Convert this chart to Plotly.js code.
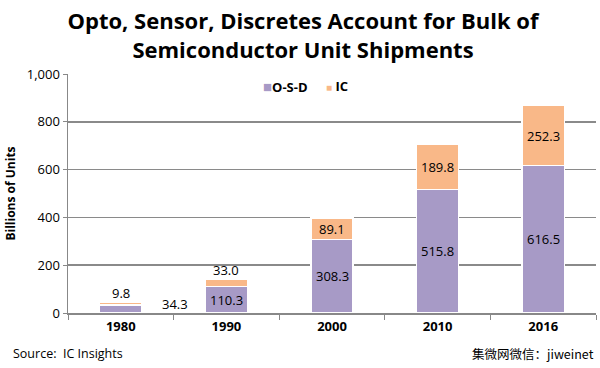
<!DOCTYPE html>
<html><head><meta charset="utf-8">
<script src="https://cdn.plot.ly/plotly-3.0.1.min.js"></script>
<style>body{margin:0;background:#fff}#c{width:600px;height:368px}</style>
</head><body><div id="c"></div>
<script>
const years = ['1980','1990','2000','2010','2016'];
const osd = [34.3, 110.3, 308.3, 515.8, 616.5];
const ic = [9.8, 33.0, 89.1, 189.8, 252.3];
const seriesNames = ['O-S-D', 'IC'];
const yTicks = [0, 200, 400, 600, 800, 1000];

const purple = '#a79ac6', orange = '#f9b888';
const font = 'Open Sans, Liberation Sans, sans-serif';

const traces = [
  {type:'bar', name:seriesNames[0], x:years, y:osd, marker:{color:purple, line:{color:'#fff', width:1.5}}, hoverinfo:'none'},
  {type:'bar', name:seriesNames[1], x:years, y:ic, marker:{color:orange, line:{color:'#fff', width:1.5}}, hoverinfo:'none'}
];

const ann = [];
years.forEach((yr, i) => {
  const small = osd[i] < 60;
  ann.push({x:i, y: osd[i]/2, text: osd[i].toFixed(1), showarrow:false,
    xshift: small ? 54 : 0, yshift: small ? 5 : 0,
    font:{family:font, size:13, color:'#000'}});
  const smallIC = ic[i] < 40;
  ann.push({x:i, y: smallIC ? osd[i]+ic[i] : osd[i]+ic[i]/2, text: ic[i].toFixed(1), showarrow:false,
    yshift: smallIC ? 9 : 0,
    font:{family:font, size:13, color:'#000'}});
});
// legend drawn as annotations
ann.push({xref:'paper', yref:'paper', x:0.366, y:0.95, xanchor:'left', yanchor:'middle', showarrow:false,
  text:'<span style="color:'+purple+';font-size:15px">■</span>'+seriesNames[0], font:{family:font, size:13, color:'#000', weight:'bold'}});
ann.push({xref:'paper', yref:'paper', x:0.485, y:0.95, xanchor:'left', yanchor:'middle', showarrow:false,
  text:'<span style="color:'+orange+';font-size:10px">■</span> '+seriesNames[1], font:{family:font, size:13, color:'#000', weight:'bold'}});
ann.push({xref:'paper', yref:'paper', x:-0.108, y:-0.168, xanchor:'left', yanchor:'middle', text:'Source:  IC Insights', showarrow:false, font:{family:font, size:12.5, color:'#000'}});
ann.push({xref:'paper', yref:'paper', x:1.0, y:-0.168, xanchor:'right', yanchor:'middle', text:'集微网微信：jiweinet', showarrow:false, font:{family:'Noto Sans CJK SC, sans-serif', size:12.5, color:'#000'}});

const layout = {
  width:600, height:368,
  margin:{l:68, r:4, t:74, b:55},
  paper_bgcolor:'#fff', plot_bgcolor:'#fff',
  barmode:'stack', bargap:0.6,
  title:{text:'Opto, Sensor, Discretes Account for Bulk of<br>Semiconductor Unit Shipments', x:0.505, xanchor:'center', xref:'container', yref:'container', y:0.92, yanchor:'top',
    font:{family:font, size:22, color:'#000', weight:'bold'}},
  xaxis:{type:'category', range:[-0.5, 4.5], showgrid:false, showline:true, linecolor:'#888', linewidth:2,
    ticks:'outside', tickson:'boundaries', ticklen:5, tickcolor:'#888', tickangle:0,
    tickfont:{family:font, size:13, color:'#000', weight:'bold'}},
  yaxis:{range:[0,1000], tickvals:yTicks, ticktext:yTicks.map(v=>v.toLocaleString('en-US')),
    showgrid:true, gridcolor:'#8a8a8a', gridwidth:1.5, showline:true, linecolor:'#888', linewidth:1.5,
    ticks:'outside', ticklen:4, tickcolor:'#888', zeroline:false,
    tickfont:{family:font, size:13, color:'#000'},
    title:{text:'Billions of Units', font:{family:font, size:12, color:'#000', weight:'bold'}, standoff:8}},
  annotations: ann,
  showlegend:false
};
Plotly.newPlot('c', traces, layout, {staticPlot:true});
</script></body></html>
